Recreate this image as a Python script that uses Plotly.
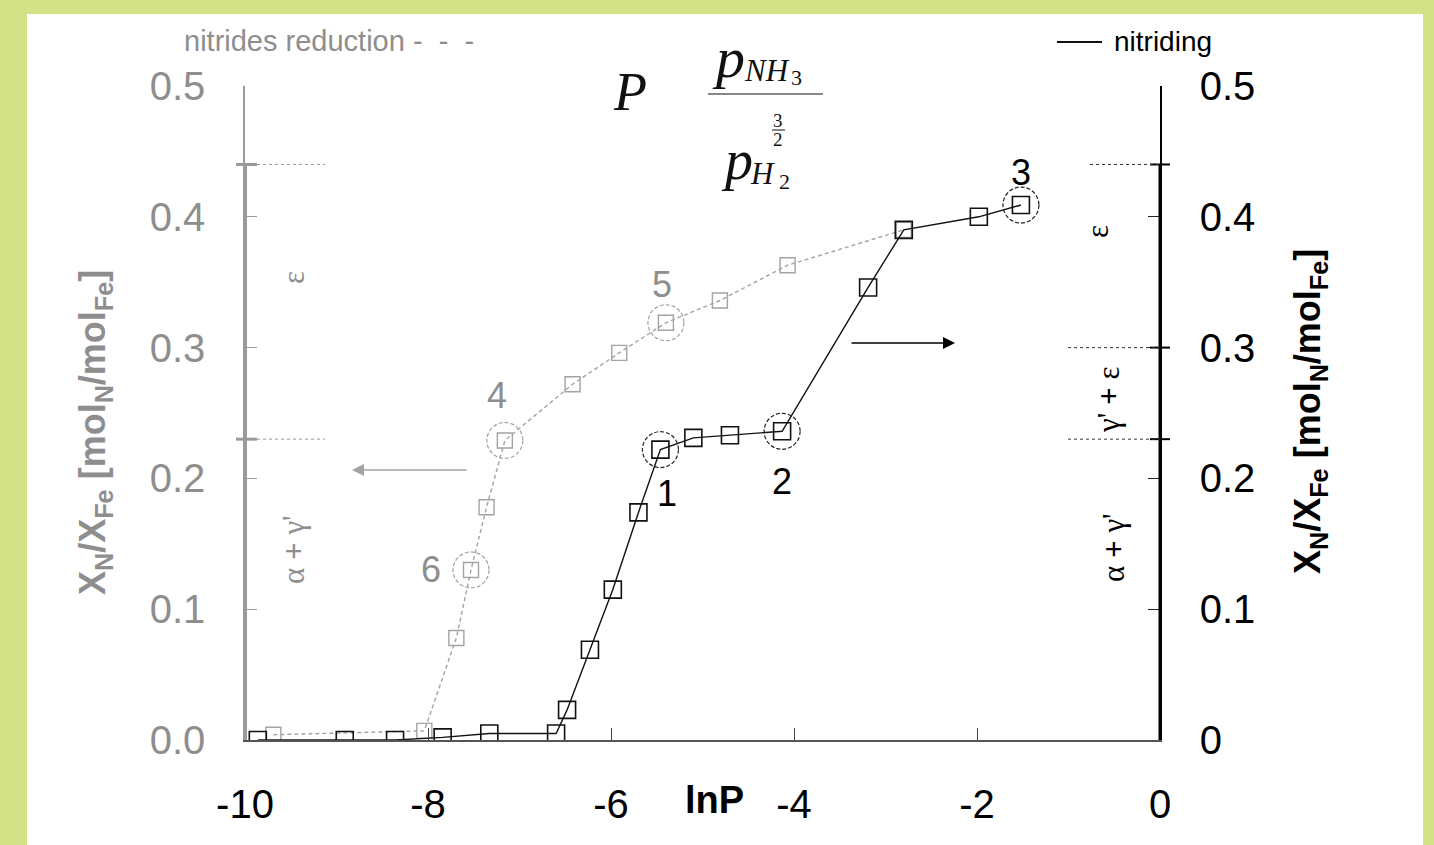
import plotly.graph_objects as go

# ---- data -------------------------------------------------------------
# nitriding run (right axis, solid line)
nitriding_lnP = [-9.86, -8.91, -8.36, -7.84, -7.33, -6.60, -6.48, -6.23, -5.98,
                 -5.70, -5.46, -5.10, -4.70, -4.13, -3.19, -2.80, -1.98, -1.52]
nitriding_xn = [0.000, 0.000, 0.000, 0.002, 0.005, 0.005, 0.023, 0.069, 0.115,
                0.174, 0.222, 0.231, 0.233, 0.236, 0.346, 0.390, 0.400, 0.409]
nitriding_marked = {10: "1", 13: "2", 17: "3"}

# nitrides reduction run (left axis, dashed line)
reduction_lnP = [-9.69, -8.04, -7.69, -7.53, -7.36, -7.16, -6.42, -5.91, -5.40,
                 -4.81, -4.07, -2.80]
reduction_xn = [0.004, 0.007, 0.078, 0.130, 0.178, 0.229, 0.272, 0.296, 0.319,
                0.336, 0.363, 0.390]
reduction_marked = {5: "4", 8: "5", 3: "6"}

# phase boundaries drawn on each axis
left_bounds = [0.23, 0.44]
right_bounds = [0.23, 0.30, 0.44]

x_ticks = [-10, -8, -6, -4, -2, 0]
x_ticktext = ["-10", "-8", "-6", "-4", "-2", "0"]
y_ticks = [0.0, 0.1, 0.2, 0.3, 0.4, 0.5]
left_ticktext = ["0.0", "0.1", "0.2", "0.3", "0.4", "0.5"]
right_ticktext = ["0", "0.1", "0.2", "0.3", "0.4", "0.5"]

# ---- layout geometry ---------------------------------------------------
W, H = 1434, 845
L, R, T, B = 245, 274, 86, 105
PW, PH = W - L - R, H - T - B


def px(x):
    return (x - L) / PW


def py(y):
    return (H - B - y) / PH


GRAY = "#8e8e8e"
GRAY_LINE = "#a3a3a3"
SANS = "Liberation Sans, Arial, sans-serif"
SERIF = "Liberation Serif, Times New Roman, serif"

fig = go.Figure()

fig.add_trace(go.Scatter(
    x=reduction_lnP, y=reduction_xn, yaxis="y", mode="lines+markers",
    line=dict(color=GRAY_LINE, width=1.4, dash="4px,3px"),
    marker=dict(symbol="square-open", size=15, color=GRAY_LINE, line=dict(width=1.4)),
    showlegend=False, hoverinfo="x+y",
))
fig.add_trace(go.Scatter(
    x=nitriding_lnP, y=nitriding_xn, yaxis="y2", mode="lines+markers",
    line=dict(color="#111111", width=1.4),
    marker=dict(symbol="square-open", size=17, color="#111111", line=dict(width=1.6)),
    showlegend=False, hoverinfo="x+y",
))

shapes = []
annotations = []

# white panel on the green page
shapes.append(dict(type="rect", xref="paper", yref="paper", layer="below",
                   x0=px(27), x1=px(1423), y0=py(860), y1=py(14),
                   fillcolor="white", line=dict(width=0)))

# dashed circles round the numbered states
for idx, lab in nitriding_marked.items():
    shapes.append(dict(type="circle", xref="x", yref="y2", xsizemode="pixel", ysizemode="pixel",
                       xanchor=nitriding_lnP[idx], yanchor=nitriding_xn[idx],
                       x0=-18, x1=18, y0=-18, y1=18,
                       line=dict(color="#222222", width=1.2, dash="4px,2px")))
for idx, lab in reduction_marked.items():
    shapes.append(dict(type="circle", xref="x", yref="y", xsizemode="pixel", ysizemode="pixel",
                       xanchor=reduction_lnP[idx], yanchor=reduction_xn[idx],
                       x0=-18, x1=18, y0=-18, y1=18,
                       line=dict(color=GRAY_LINE, width=1.2, dash="4px,2px")))

# thick axis segments spanning the phase regions
shapes.append(dict(type="line", xref="paper", yref="y", x0=0, x1=0, y0=0, y1=max(left_bounds),
                   line=dict(color="#9a9a9a", width=4)))
shapes.append(dict(type="line", xref="paper", yref="y2", x0=1, x1=1, y0=0, y1=max(right_bounds),
                   line=dict(color="#000000", width=3)))

# phase boundary marks and dotted guide lines
for b in left_bounds:
    shapes.append(dict(type="line", xref="paper", yref="y", x0=px(236), x1=px(257), y0=b, y1=b,
                       line=dict(color="#9a9a9a", width=3)))
    shapes.append(dict(type="line", xref="paper", yref="y", x0=0, x1=px(325), y0=b, y1=b,
                       line=dict(color="#9a9a9a", width=1, dash="dot")))
for b in right_bounds:
    shapes.append(dict(type="line", xref="paper", yref="y2", x0=px(1150), x1=px(1170), y0=b, y1=b,
                       line=dict(color="#000000", width=2)))
    start = 1090 if b == max(right_bounds) else 1068
    shapes.append(dict(type="line", xref="paper", yref="y2", x0=px(start), x1=1, y0=b, y1=b,
                       line=dict(color="#333333", width=1, dash="dot")))

# legend line for the nitriding run
shapes.append(dict(type="line", xref="paper", yref="paper", x0=px(1057), x1=px(1102),
                   y0=py(42), y1=py(42), line=dict(color="#111111", width=2)))
# fraction bars of the formula
shapes.append(dict(type="line", xref="paper", yref="paper", x0=px(708), x1=px(823),
                   y0=py(94), y1=py(94), line=dict(color="#111111", width=1.2)))
shapes.append(dict(type="line", xref="paper", yref="paper", x0=px(772), x1=px(785),
                   y0=py(130), y1=py(130), line=dict(color="#111111", width=1)))

# state numbers
num_font = dict(family=SANS, size=36)
offsets = {"1": (7, -44), "2": (0, -50), "3": (0, 33), "4": (-8, 45), "5": (-4, 38), "6": (-40, 0)}
for idx, lab in nitriding_marked.items():
    dx, dy = offsets[lab]
    annotations.append(dict(x=nitriding_lnP[idx], y=nitriding_xn[idx], xref="x", yref="y2",
                            text=lab, showarrow=False, xshift=dx, yshift=dy,
                            font=dict(num_font, color="#000000")))
for idx, lab in reduction_marked.items():
    dx, dy = offsets[lab]
    annotations.append(dict(x=reduction_lnP[idx], y=reduction_xn[idx], xref="x", yref="y",
                            text=lab, showarrow=False, xshift=dx, yshift=dy,
                            font=dict(num_font, color=GRAY)))

# arrows pointing to the axis each run belongs to
annotations.append(dict(xref="paper", yref="paper", x=px(352), y=py(470), ax=116, ay=0,
                        text="", showarrow=True, arrowhead=2, arrowsize=1.6, arrowwidth=1.5,
                        arrowcolor=GRAY_LINE))
annotations.append(dict(xref="paper", yref="paper", x=px(955), y=py(343), ax=-105, ay=0,
                        text="", showarrow=True, arrowhead=2, arrowsize=1.6, arrowwidth=1.5,
                        arrowcolor="#000000"))

# legend texts
annotations.append(dict(xref="paper", yref="paper", x=px(182), y=py(41), xanchor="left",
                        yanchor="middle", text="nitrides reduction -&nbsp; -&nbsp; -",
                        showarrow=False, font=dict(family=SANS, size=29, color=GRAY)))
annotations.append(dict(xref="paper", yref="paper", x=px(1112), y=py(41), xanchor="left",
                        yanchor="middle", text="nitriding", showarrow=False,
                        font=dict(family=SANS, size=28, color="#000000")))

# axis titles
ytitle = "<b>X<sub>N</sub>/X<sub>Fe</sub> [mol<sub>N</sub>/mol<sub>Fe</sub>]</b>"
annotations.append(dict(xref="paper", yref="paper", x=px(95), y=py(433), text=ytitle,
                        textangle=-90, showarrow=False, xanchor="center", yanchor="middle",
                        font=dict(family=SANS, size=36, color=GRAY)))
annotations.append(dict(xref="paper", yref="paper", x=px(1310), y=py(412), text=ytitle,
                        textangle=-90, showarrow=False, xanchor="center", yanchor="middle",
                        font=dict(family=SANS, size=36, color="#000000")))
annotations.append(dict(xref="paper", yref="paper", x=px(714), y=py(800), text="<b>lnP</b>",
                        showarrow=False, xanchor="center", yanchor="middle",
                        font=dict(family=SANS, size=38, color="#000000")))

# phase region labels
phase_labels = [
    (293, 278, "ε", GRAY), (293, 550, "α <b>+</b> γ'", GRAY),
    (1097, 232, "ε", "#000000"), (1108, 400, "γ' <b>+</b> ε", "#000000"),
    (1113, 548, "α <b>+</b> γ'", "#000000"),
]
for x, y, t, c in phase_labels:
    annotations.append(dict(xref="paper", yref="paper", x=px(x), y=py(y), text=t,
                            textangle=-90, showarrow=False, xanchor="center", yanchor="middle",
                            font=dict(family=SERIF, size=31, color=c)))

# formula  P = p_NH3 / p_H2^(3/2)
formula = [
    (630, 92, "<i>P</i>", 54, "center"),
    (728, 58, "<i>p</i>", 58, "center"),
    (742, 70, "<i>NH</i>", 31, "left"),
    (789, 78, "3", 22, "left"),
    (737, 160, "<i>p</i>", 56, "center"),
    (748, 173, "<i>H</i>", 31, "left"),
    (777, 181, "2", 22, "left"),
    (778, 120, "3", 19, "center"),
    (778, 140, "2", 19, "center"),
]
for x, y, t, s, anchor in formula:
    annotations.append(dict(xref="paper", yref="paper", x=px(x), y=py(y), text=t,
                            showarrow=False, xanchor=anchor, yanchor="middle",
                            font=dict(family=SERIF, size=s, color="#111111")))

fig.update_layout(
    width=W, height=H,
    margin=dict(l=L, r=R, t=T, b=B, pad=0),
    paper_bgcolor="#d3e287",
    plot_bgcolor="rgba(0,0,0,0)",
    shapes=shapes,
    annotations=annotations,
    xaxis=dict(range=[-10, 0], tickvals=x_ticks, ticktext=x_ticktext, ticks="inside",
               ticklen=12, tickwidth=1.2, tickcolor="#444444", showline=True,
               linecolor="#555555", linewidth=1.5, showgrid=False, zeroline=False,
               ticklabelstandoff=28, tickfont=dict(family=SANS, size=40, color="#000000")),
    yaxis=dict(range=[0, 0.5], tickvals=y_ticks, ticktext=left_ticktext, ticks="inside",
               ticklen=12, tickwidth=1.2, tickcolor="#9a9a9a", showline=True,
               linecolor="#9a9a9a", linewidth=1.5, showgrid=False, zeroline=False,
               ticklabelstandoff=30, tickfont=dict(family=SANS, size=40, color=GRAY)),
    yaxis2=dict(range=[0, 0.5], tickvals=y_ticks, ticktext=right_ticktext, ticks="inside",
                ticklen=12, tickwidth=1.2, tickcolor="#222222", showline=True,
                linecolor="#000000", linewidth=1.5, showgrid=False, zeroline=False,
                overlaying="y", side="right", ticklabelstandoff=30,
                tickfont=dict(family=SANS, size=40, color="#000000")),
)

fig.write_html("out.html")
